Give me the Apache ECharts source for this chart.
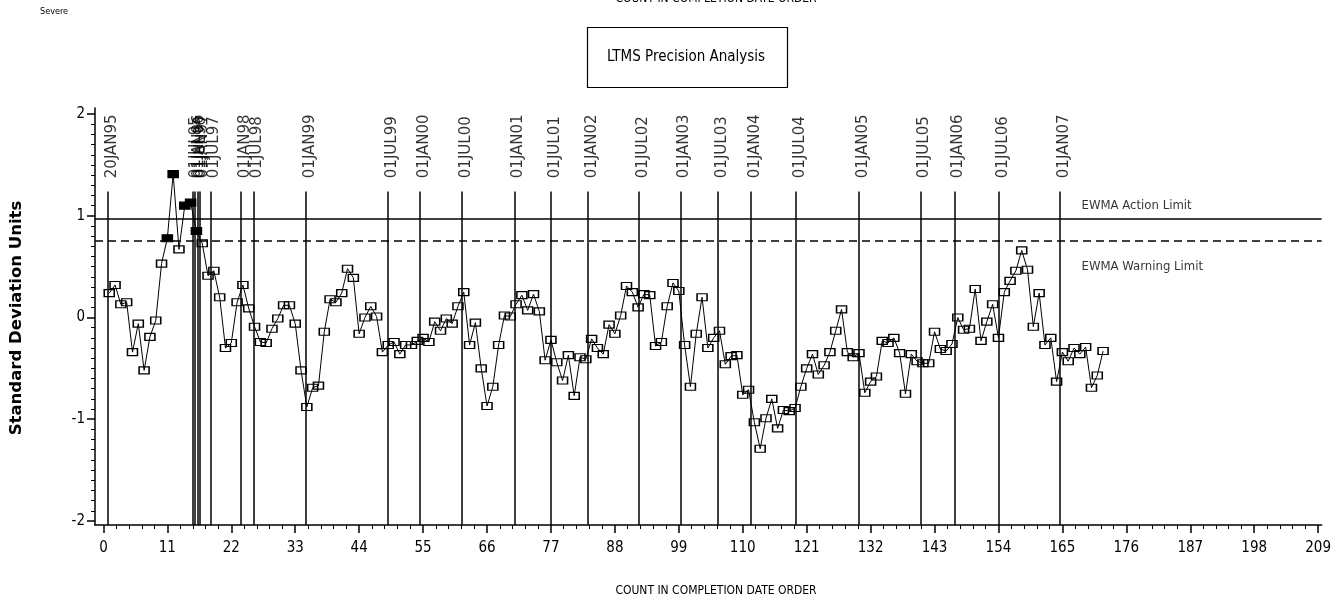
<!DOCTYPE html>
<html><head><meta charset="utf-8">
<script src="https://cdn.jsdelivr.net/npm/echarts@6/dist/echarts.min.js"></script>
<style>html,body{margin:0;padding:0;background:#fff}#c{width:1334px;height:603px}</style>
</head><body><div id="c"></div>
<script>
// ---- data ----
const ewmaValues = [
  0.24, 0.32, 0.13, 0.15, -0.34, -0.06, -0.52, -0.19, -0.03, 0.53,
  0.78, 1.41, 0.67, 1.10, 1.13, 0.85, 0.73, 0.41, 0.46, 0.20,
  -0.30, -0.25, 0.15, 0.32, 0.09, -0.09, -0.24, -0.25, -0.11, -0.01,
  0.12, 0.12, -0.06, -0.52, -0.88, -0.69, -0.67, -0.14, 0.18, 0.15,
  0.24, 0.48, 0.39, -0.16, 0.00, 0.11, 0.01, -0.34, -0.27, -0.24,
  -0.36, -0.27, -0.27, -0.23, -0.20, -0.24, -0.04, -0.13,
  -0.01, -0.06, 0.11, 0.25, -0.27, -0.05, -0.50, -0.87, -0.68, -0.27,
  0.02, 0.01, 0.13, 0.22, 0.07, 0.23, 0.06, -0.42, -0.22, -0.44,
  -0.62, -0.37, -0.77, -0.39, -0.41, -0.21, -0.30, -0.36, -0.07, -0.16,
  0.02, 0.31, 0.25, 0.10, 0.23, 0.22, -0.28, -0.24, 0.11, 0.34,
  0.26, -0.27, -0.68, -0.16, 0.20, -0.30, -0.20, -0.13, -0.46, -0.38,
  -0.37, -0.76, -0.71, -1.03, -1.29, -0.99, -0.80, -1.09,
  -0.91, -0.92, -0.89, -0.68, -0.50, -0.36, -0.56, -0.47, -0.34, -0.13,
  0.08, -0.34, -0.39, -0.35, -0.74, -0.63, -0.58, -0.23, -0.25, -0.20,
  -0.35, -0.75, -0.36, -0.43, -0.45, -0.45, -0.14, -0.31, -0.33, -0.26,
  0.00, -0.12, -0.11, 0.28, -0.23, -0.04, 0.13, -0.20, 0.25, 0.36,
  0.46, 0.66, 0.47, -0.09, 0.24, -0.27, -0.20, -0.63, -0.34, -0.43,
  -0.30, -0.36, -0.29, -0.69, -0.57, -0.33
];
const refLabels = ['20JAN95','01JUL95','01JAN96','01JUL96','01JAN97','01JUL97','01JAN98','01JUL98',
  '01JAN99','01JUL99','01JAN00','01JUL00','01JAN01','01JUL01','01JAN02','01JUL02','01JAN03',
  '01JUL03','01JAN04','01JUL04','01JAN05','01JUL05','01JAN06','01JUL06','01JAN07'];
const refCounts = [0.8, 15.3, 15.7, 16.2, 16.5, 18.4, 23.7, 25.8, 34.8, 48.9, 54.5, 61.7, 70.7,
  77.0, 83.4, 92.1, 99.3, 105.7, 111.4, 119.1, 130.0, 140.6, 146.4, 154.1, 164.6];
const actionLimit = 0.97;
const warningLimit = 0.75;
const limitLabels = ['EWMA Action Limit', 'EWMA Warning Limit'];
const xTickLabels = [0, 11, 22, 33, 44, 55, 66, 77, 88, 99, 110, 121, 132, 143, 154, 165, 176, 187, 198, 209];
const yTickLabels = [-2, -1, 0, 1, 2];

// ---- layout / style ----
const NARROW = '"Liberation Sans Narrow","DejaVu Sans Condensed","Roboto Condensed","Arial Narrow","Liberation Sans",sans-serif';
const X_MIN = -1.45, X_MAX = 209.6, Y_MIN = -2.04, Y_MAX = 2.06;
const REF_TOP = 1.24, REF_LABEL_Y = 1.37;

const xMinor = [];
for (let i = 0; i < xTickLabels.length - 1; i++) {
  for (let k = 1; k < 5; k++) xMinor.push(+(xTickLabels[i] + k * 2.2).toFixed(2));
}
const yMinor = [];
for (let i = -20; i <= 20; i++) { if (i % 10 !== 0) yMinor.push(i / 10); }

const chart = echarts.init(document.getElementById('c'), null, {renderer: 'canvas'});

const lineData = ewmaValues.map((v, i) => {
  const d = {value: [i + 1, v]};
  if (v > warningLimit) d.itemStyle = {color: '#000', borderColor: '#000'};
  return d;
});

const refLineData = refCounts.map(x => [
  {coord: [x, REF_TOP]}, {coord: [x, Y_MIN]}
]);

const axisBase = {type: 'value', splitLine: {show: false}};

const option = {
  animation: false,
  backgroundColor: '#fff',
  grid: {left: 95, right: 6, top: 108, bottom: 78, containLabel: false},
  xAxis: [
    Object.assign({}, axisBase, {
      min: X_MIN, max: X_MAX, position: 'bottom',
      axisLine: {show: true, onZero: false, lineStyle: {color: '#000', width: 1.5}},
      axisTick: {show: true, customValues: xTickLabels, length: 8, lineStyle: {color: '#000', width: 1.5}},
      axisLabel: {customValues: xTickLabels, margin: 16, color: '#000', fontFamily: NARROW, fontSize: 15}
    }),
    Object.assign({}, axisBase, {
      min: X_MIN, max: X_MAX, position: 'bottom',
      axisLine: {show: false, onZero: false},
      axisTick: {show: true, customValues: xMinor, length: 4, lineStyle: {color: '#000', width: 1}},
      axisLabel: {show: false}
    })
  ],
  yAxis: [
    Object.assign({}, axisBase, {
      min: Y_MIN, max: Y_MAX, position: 'left',
      axisLine: {show: true, onZero: false, lineStyle: {color: '#000', width: 1.5}},
      axisTick: {show: true, customValues: yTickLabels, length: 8, lineStyle: {color: '#000', width: 1.5}},
      axisLabel: {customValues: yTickLabels, margin: 10, color: '#000', fontFamily: NARROW, fontSize: 15,
        formatter: v => String(v)}
    }),
    Object.assign({}, axisBase, {
      min: Y_MIN, max: Y_MAX, position: 'left',
      axisLine: {show: false, onZero: false},
      axisTick: {show: true, customValues: yMinor, length: 4, lineStyle: {color: '#000', width: 1}},
      axisLabel: {show: false}
    })
  ],
  series: [
    {
      type: 'line', name: 'limits', data: [], silent: true,
      markLine: {
        silent: true, symbol: 'none', animation: false,
        label: {show: false},
        lineStyle: {color: '#000', width: 1.5, type: 'solid'},
        data: [
          {yAxis: actionLimit, lineStyle: {type: 'solid', color: '#000', width: 1.5}},
          {yAxis: warningLimit, lineStyle: {type: [8, 5], color: '#000', width: 1.5}}
        ].concat(refLineData)
      }
    },
    {
      type: 'line', name: 'EWMA', data: lineData, z: 5,
      symbol: 'rect', symbolSize: [10, 7], showAllSymbol: true,
      lineStyle: {color: '#000', width: 1},
      itemStyle: {color: 'rgba(255,255,255,0)', borderColor: '#000', borderWidth: 1.3}
    },
    {
      type: 'scatter', name: 'refLabels', symbolSize: 0, silent: true, z: 6,
      data: refCounts.map((x, i) => ({value: [x, REF_LABEL_Y], name: refLabels[i]})),
      label: {show: true, formatter: '{b}', position: 'inside', rotate: 90, align: 'left',
        verticalAlign: 'middle', offset: [0, 4], color: '#000', fontFamily: '"DejaVu Sans",sans-serif', fontSize: 15}
    },
    {
      type: 'scatter', name: 'limitLabels', symbolSize: 0, silent: true, z: 6,
      data: [
        {value: [168.3, 1.10], name: limitLabels[0]},
        {value: [168.3, 0.50], name: limitLabels[1]}
      ],
      label: {show: true, formatter: '{b}', position: 'inside', align: 'left', verticalAlign: 'middle',
        color: '#000', fontFamily: NARROW, fontSize: 13}
    }
  ],
  graphic: [
    {type: 'text', left: 40, top: 7, style: {text: 'Severe', fill: '#000', font: '9px ' + NARROW}},
    {type: 'text', x: 716, y: -1, style: {text: 'COUNT IN COMPLETION DATE ORDER', fill: '#000', font: '12px ' + NARROW, textAlign: 'center', textVerticalAlign: 'middle'}},
    {type: 'rect', shape: {x: 587.5, y: 27.5, width: 200, height: 60}, style: {fill: '#fff', stroke: '#000', lineWidth: 1.2}},
    {type: 'text', x: 686, y: 57, style: {text: 'LTMS Precision Analysis', fill: '#000', font: '15px ' + NARROW, textAlign: 'center', textVerticalAlign: 'middle'}},
    {type: 'text', x: 716, y: 591, style: {text: 'COUNT IN COMPLETION DATE ORDER', fill: '#000', font: '12px ' + NARROW, textAlign: 'center', textVerticalAlign: 'middle'}},
    {type: 'text', x: 17, y: 318, rotation: Math.PI / 2, style: {text: 'Standard Deviation Units', fill: '#000', font: 'bold 16.5px "DejaVu Sans",sans-serif', textAlign: 'center', textVerticalAlign: 'middle'}}
  ]
};
chart.setOption(option);
</script>
</body></html>
